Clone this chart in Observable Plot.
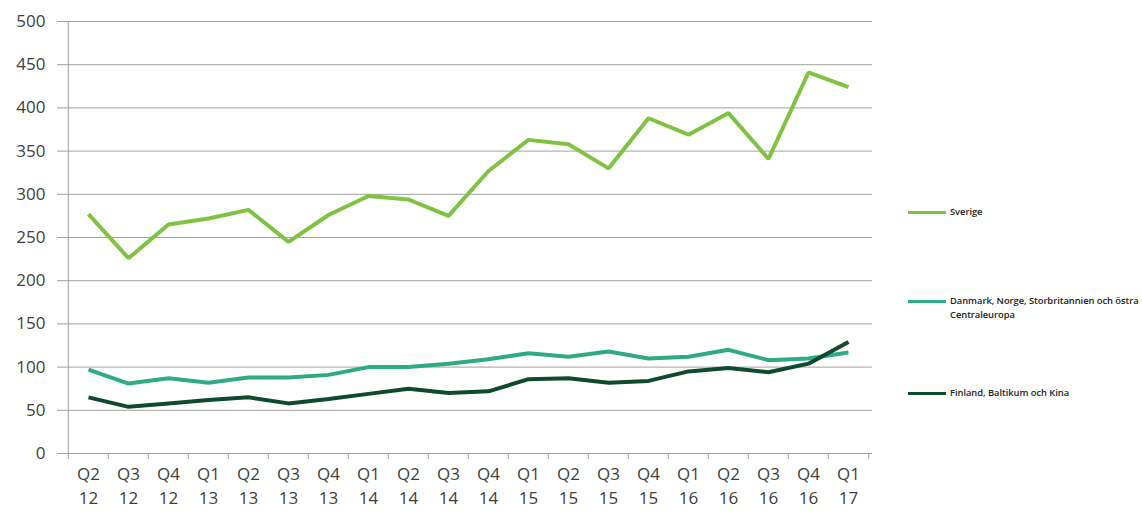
<!DOCTYPE html>
<html>
<head>
<meta charset="utf-8">
<script src="https://cdn.jsdelivr.net/npm/d3@7"></script>
<script src="https://cdn.jsdelivr.net/npm/@observablehq/plot@0.6"></script>
<style>
  html, body { margin: 0; padding: 0; background: #fff; }
  #wrap { position: relative; width: 1142px; height: 512px; font-family: "Open Sans", "Liberation Sans", sans-serif; }
  #legend { position: absolute; left: 0; top: 0; width: 1142px; }
  .lg { position: absolute; display: flex; align-items: flex-start; font-size: 9.4px; font-weight: 600; color: #222; line-height: 14px; white-space: nowrap; letter-spacing: -0.05px; }
  .lg .sw { width: 38px; height: 3px; margin-top: 6px; margin-right: 4px; flex: none; }
</style>
</head>
<body>
<div id="wrap"><div id="chart"></div><div id="legend"></div></div>
<script>
const categories = ["Q2 12","Q3 12","Q4 12","Q1 13","Q2 13","Q3 13","Q4 13","Q1 14","Q2 14","Q3 14","Q4 14","Q1 15","Q2 15","Q3 15","Q4 15","Q1 16","Q2 16","Q3 16","Q4 16","Q1 17"];
const seriesNames = ["Sverige", "Danmark, Norge, Storbritannien och östra Centraleuropa", "Finland, Baltikum och Kina"];
const legendLines = [["Sverige"], ["Danmark, Norge, Storbritannien och östra", "Centraleuropa"], ["Finland, Baltikum och Kina"]];
const sverige = [277,226,265,272,282,245,276,298,294,275,327,363,358,330,388,369,394,341,441,424];
const danmark = [97,81,87,82,88,88,91,100,100,104,109,116,112,118,110,112,120,108,110,117];
const finland = [65,54,58,62,65,58,63,69,75,70,72,86,87,82,84,95,99,94,104,129];
const colors = ["#80c342", "#2eaa86", "#0e4a2d"];
const yTicks = [0,50,100,150,200,250,300,350,400,450,500];

const seriesValues = [sverige, danmark, finland];
const data = seriesValues.flatMap((vals, s) => vals.map((v, i) => ({cat: categories[i], value: v, series: seriesNames[s]})));

const W = 1142, H = 512, ml = 63, mr = 270, mt = 21, mb = 59;
const step = (W - ml - mr) / categories.length;

const chart = Plot.plot({
  width: W, height: H,
  marginLeft: ml, marginRight: mr, marginTop: mt, marginBottom: mb,
  style: {fontFamily: "'Open Sans', 'Liberation Sans', sans-serif", background: "#fff"},
  x: {type: "point", domain: categories, padding: 0.5, label: null},
  y: {domain: [0, 500], label: null},
  color: {domain: seriesNames, range: colors},
  marks: [
    Plot.gridY(yTicks, {stroke: "#a0a0a0", strokeOpacity: 1, strokeWidth: 1, insetLeft: -6}),
    Plot.ruleX([categories[0]], {dx: -step / 2, y1: 0, y2: 500, stroke: "#a0a0a0"}),
    Plot.ruleX(categories, {x: d => d, dx: -step / 2, y1: 0, y2: 0, insetBottom: -6, stroke: "#a0a0a0"}),
    Plot.ruleX([categories[categories.length - 1]], {dx: step / 2, y1: 0, y2: 0, insetBottom: -6, stroke: "#a0a0a0"}),
    Plot.axisY(yTicks, {tickSize: 0, tickPadding: 18, fontSize: 17, fill: "#404040", label: null}),
    Plot.axisX(categories, {tickSize: 0, tickPadding: 10, fontSize: 17, fill: "#404040", lineHeight: 1.38, label: null,
      tickFormat: d => d.replace(" ", "\n")}),
    Plot.line(data, {x: "cat", y: "value", z: "series", stroke: "series", strokeWidth: 4, strokeLinejoin: "miter", strokeLinecap: "butt"})
  ]
});
document.getElementById("chart").appendChild(chart);

// legend (layout in pixels, outside the plot area)
const legendLeft = 908;
const legendTops = [205, 294, 386];
const legend = document.getElementById("legend");
seriesNames.forEach((name, i) => {
  const row = document.createElement("div");
  row.className = "lg";
  row.style.left = legendLeft + "px";
  row.style.top = legendTops[i] + "px";
  const sw = document.createElement("div");
  sw.className = "sw";
  sw.style.background = colors[i];
  const tx = document.createElement("div");
  tx.innerHTML = legendLines[i].join("<br>");
  row.appendChild(sw); row.appendChild(tx);
  legend.appendChild(row);
});
</script>
</body>
</html>
